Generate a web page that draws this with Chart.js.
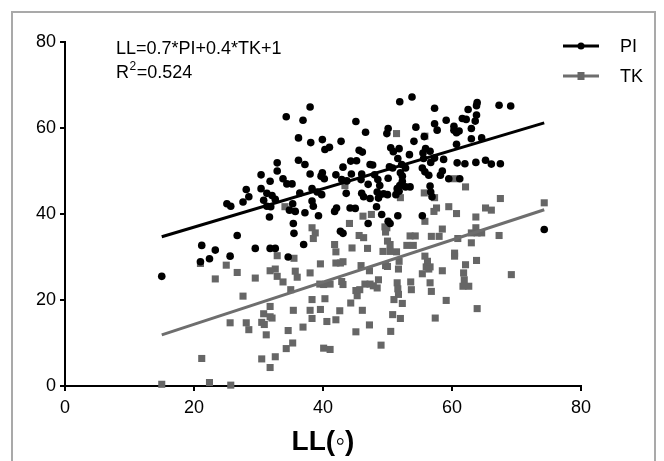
<!DOCTYPE html>
<html><head><meta charset="utf-8">
<script src="https://cdn.jsdelivr.net/npm/chart.js@4"></script>
<style>html,body{margin:0;padding:0;background:#fff;} #wrap{position:relative;width:664px;height:461px;}</style>
</head><body><div id="wrap"><canvas id="c" width="664" height="461"></canvas></div>
<script>
const seriesNames = ['PI', 'TK'];
const xTicks = [0, 20, 40, 60, 80];
const yTicks = [0, 20, 40, 60, 80];
const equationText = 'LL=0.7*PI+0.4*TK+1';
const r2Parts = ['R', '2', '=0.524'];
const xTitle = 'LL(\u25E6)';

const piX = [34.3,36.9,36.2,32.9,36.2,32.9,30.4,33.8,31.8,34.4,35.2,28.1,30.4,31.3,32.1,28.5,27.6,25.1,25.7,30.8,
32.6,31.3,31.9,35.3,34.8,35.7,31.7,35.4,35.5,26.7,21.2,23.3,21.0,22.4,25.6,29.5,31.8,32.6,34.6,15.0,
38.0,51.9,53.8,57.3,45.1,57.3,59.1,60.3,38.1,39.9,42.8,46.6,50.1,49.9,54.4,57.7,60.3,60.7,55.7,54.1,
41.0,40.3,45.6,46.1,50.5,51.8,50.9,53.4,55.9,56.6,55.5,60.7,37.2,44.3,45.2,47.3,47.7,51.6,55.6,56.7,
57.3,58.7,43.1,50.3,50.8,52.2,52.8,55.4,38.0,39.9,39.7,40.2,42.0,44.4,46.0,45.9,48.0,52.0,52.3,55.8,
56.4,58.5,58.2,50.1,59.5,42.9,43.7,48.5,48.8,47.0,52.3,51.9,52.8,51.5,53.5,56.6,38.3,39.1,39.8,36.4,
46.0,46.3,43.6,48.4,48.8,49.4,50.0,48.6,51.3,51.8,56.7,56.9,38.3,38.5,42.1,41.8,44.2,45.0,47.3,48.3,
37.2,39.3,49.1,51.6,55.4,47.0,50.1,50.4,42.7,43.1,37.0,63.9,63.8,67.3,69.1,62.5,63.8,63.6,61.6,62.2,
61.1,63.0,63.0,64.6,60.8,62.0,63.7,65.2,66.1,67.5,61.2,74.3];
const piY = [62.6,61.8,57.7,51.9,52.5,50.0,49.1,48.2,47.6,47.0,47.0,45.7,45.9,44.8,44.3,44.0,42.8,42.4,41.8,43.2,
43.4,41.8,41.7,42.4,40.9,40.6,39.3,37.8,35.5,35.0,32.7,31.6,28.9,29.6,30.2,32.0,32.0,32.0,30.0,25.5,
64.9,66.1,67.2,64.6,61.5,61.0,61.8,60.4,56.6,57.3,56.9,59.0,59.9,58.7,60.2,59.5,59.5,58.9,58.0,56.9,
55.5,55.0,54.8,54.4,55.4,55.2,54.5,53.8,55.2,54.6,54.2,56.2,51.5,52.3,52.4,51.5,51.4,52.9,52.9,52.0,
53.0,52.7,50.9,51.0,50.7,51.5,50.7,50.7,49.3,49.6,48.8,48.2,49.1,49.3,49.3,48.0,49.1,49.6,48.8,49.8,
49.0,50.0,49.0,48.3,48.2,48.0,47.7,48.0,46.6,46.9,47.6,46.6,46.3,45.9,46.3,46.5,45.9,45.1,44.5,44.9,
44.8,44.0,44.8,45.1,44.4,44.7,44.5,43.7,44.5,45.3,45.1,44.0,43.0,41.8,41.4,40.6,41.4,41.3,43.6,41.7,
40.3,39.6,39.9,39.6,39.6,37.8,38.3,37.8,36.0,35.5,32.9,65.9,65.2,65.3,65.1,64.3,63.0,61.6,62.2,62.0,
59.3,59.9,57.5,57.7,51.9,51.7,52.0,52.5,51.6,51.7,48.2,36.4];

const tkX = [34.1,21.0,25.0,23.3,26.7,29.5,32.9,35.5,31.8,32.6,32.9,33.8,35.7,36.0,35.0,27.6,31.8,35.4,30.8,31.8,
32.1,30.5,30.9,25.6,28.1,28.5,31.2,34.6,35.3,34.3,21.2,30.5,32.6,31.8,15.0,22.4,25.7,51.4,55.8,43.4,
52.0,55.7,57.3,57.6,57.2,59.5,60.7,46.2,47.5,44.1,55.8,49.6,49.9,38.3,38.8,58.5,53.5,54.3,56.8,58.0,
45.6,46.3,60.9,38.5,49.7,50.0,50.4,41.8,42.0,44.5,46.9,49.3,50.4,51.4,53.0,54.0,60.4,60.4,55.8,56.2,
56.0,39.6,42.0,42.7,43.1,45.9,47.2,49.7,50.0,51.8,51.7,56.6,56.4,55.4,58.5,38.0,39.5,40.1,41.1,42.9,
43.1,48.6,48.4,46.5,47.3,47.8,45.1,45.3,45.7,51.5,51.6,51.7,53.6,53.7,56.6,56.8,51.0,52.3,59.1,38.3,
40.3,38.0,39.6,42.6,44.3,46.1,50.8,52.0,38.3,40.6,42.0,57.4,36.9,47.2,50.5,45.1,49.0,40.1,41.1,60.4,
62.1,67.5,65.2,66.1,63.7,74.3,63.7,63.9,63.0,64.6,67.3,63.0,62.1,63.8,61.8,61.9,61.7,62.6,69.2,63.9];
const tkY = [41.7,28.5,28.1,24.9,26.4,25.1,30.3,29.7,26.8,27.2,25.5,24.2,26.7,25.3,22.4,20.9,18.5,17.6,16.8,16.1,
15.8,14.8,14.3,14.7,14.7,13.1,11.9,12.9,10.0,8.7,6.4,6.3,6.8,4.3,0.4,0.8,0.2,58.7,58.1,46.6,
43.8,44.9,43.8,41.4,40.6,41.7,40.1,39.5,39.9,37.8,38.3,37.0,36.8,36.8,35.6,36.5,34.9,34.9,34.8,34.8,
35.0,34.5,34.3,34.3,35.8,33.7,32.9,32.9,31.2,32.1,32.0,31.3,31.3,31.2,32.7,32.7,30.9,30.2,30.2,29.0,
27.7,28.4,28.6,28.6,28.9,28.0,26.8,28.0,27.8,29.0,27.2,27.7,27.2,26.1,26.8,26.3,23.7,23.6,23.7,24.3,
23.6,24.7,22.8,23.7,23.7,23.3,22.2,21.0,22.4,24.0,22.6,21.3,24.2,22.4,24.0,22.0,20.1,19.2,19.9,20.1,
20.3,17.6,17.8,17.5,19.3,17.6,16.6,15.7,15.7,15.0,15.4,15.8,13.7,14.2,12.7,12.6,9.5,8.8,8.5,48.2,
46.3,43.6,41.4,40.9,39.3,42.6,36.8,35.6,35.6,35.6,35.0,33.3,28.2,29.2,26.3,24.7,23.2,23.2,25.9,18.0];

const fitX = [15.0, 74.3];
const piFitY = [34.7, 61.2];
const tkFitY = [11.9, 41.0];

const BLACK = '#000000';
const GRAY = '#666666';
const GRAY_LINE = '#6e6e6e';
const FONT = "'Liberation Sans', Arial, sans-serif";

const toPts = (xs, ys) => xs.map((x, i) => ({x: x, y: ys[i]}));

const decor = {
  id: 'decor',
  beforeDraw(chart) {
    const ctx = chart.ctx;
    ctx.save();
    ctx.fillStyle = '#fff';
    ctx.fillRect(0, 0, chart.width, chart.height);
    ctx.restore();
  },
  afterDraw(chart) {
    const ctx = chart.ctx;
    ctx.save();
    // outer frame
    ctx.strokeStyle = '#a9a9a9';
    ctx.lineWidth = 2;
    ctx.strokeRect(12, 12, 643, 480);
    // equation text
    ctx.fillStyle = '#000';
    ctx.textBaseline = 'alphabetic';
    ctx.textAlign = 'left';
    ctx.font = '18px ' + FONT;
    ctx.fillText(equationText, 116, 54);
    let x = 116;
    ctx.fillText(r2Parts[0], x, 78);
    x += ctx.measureText(r2Parts[0]).width + 0.5;
    ctx.font = '12px ' + FONT;
    ctx.fillText(r2Parts[1], x, 70);
    x += ctx.measureText(r2Parts[1]).width + 0.5;
    ctx.font = '18px ' + FONT;
    ctx.fillText(r2Parts[2], x, 78);
    // legend
    const items = [
      {name: seriesNames[0], color: BLACK, y: 46, style: 'circle'},
      {name: seriesNames[1], color: GRAY_LINE, y: 76, style: 'rect'}
    ];
    items.forEach(it => {
      ctx.strokeStyle = it.color;
      ctx.lineWidth = 3;
      ctx.beginPath();
      ctx.moveTo(563, it.y);
      ctx.lineTo(599, it.y);
      ctx.stroke();
      ctx.fillStyle = it.style === 'circle' ? BLACK : GRAY;
      if (it.style === 'circle') {
        ctx.beginPath();
        ctx.arc(581, it.y, 3.5, 0, Math.PI * 2);
        ctx.fill();
      } else {
        ctx.fillRect(577.5, it.y - 4, 7, 8);
      }
      ctx.fillStyle = '#000';
      ctx.font = '18px ' + FONT;
      ctx.textBaseline = 'middle';
      ctx.fillText(it.name, 620, it.y + 1.5);
    });
    ctx.restore();
  }
};

new Chart(document.getElementById('c'), {
  type: 'scatter',
  data: {
    datasets: [
      {label: seriesNames[0] + ' fit', data: toPts(fitX, piFitY), showLine: true, borderColor: BLACK, borderWidth: 3, pointRadius: 0, fill: false},
      {label: seriesNames[1] + ' fit', data: toPts(fitX, tkFitY), showLine: true, borderColor: GRAY_LINE, borderWidth: 3, pointRadius: 0, fill: false},
      {label: seriesNames[0], data: toPts(piX, piY), pointStyle: 'circle', pointRadius: 3.8, backgroundColor: BLACK, borderWidth: 0, clip: false},
      {label: seriesNames[1], data: toPts(tkX, tkY), pointStyle: 'rect', pointRadius: 5, backgroundColor: GRAY, borderWidth: 0, clip: false}
    ]
  },
  options: {
    responsive: false,
    animation: false,
    devicePixelRatio: 1,
    layout: {padding: {left: 0, right: 83, top: 42, bottom: 0}},
    plugins: {legend: {display: false}, tooltip: {enabled: false}},
    scales: {
      x: {
        type: 'linear', min: 0, max: 80,
        afterBuildTicks: s => { s.ticks = xTicks.map(v => ({value: v})); },
        afterFit: s => { s.height = 75; },
        grid: {display: true, drawOnChartArea: false, drawTicks: true, tickLength: 5, color: BLACK, lineWidth: 2},
        border: {display: true, color: BLACK, width: 2},
        ticks: {color: BLACK, font: {family: FONT, size: 18}, padding: 6, maxRotation: 0},
        title: {display: true, text: xTitle, color: BLACK, font: {family: FONT, size: 28, weight: 'bold'}, padding: {top: 0, bottom: 2}}
      },
      y: {
        type: 'linear', min: 0, max: 80,
        afterBuildTicks: s => { s.ticks = yTicks.map(v => ({value: v})); },
        afterFit: s => { s.width = 65; },
        grid: {display: true, drawOnChartArea: false, drawTicks: true, tickLength: 5, color: BLACK, lineWidth: 2},
        border: {display: true, color: BLACK, width: 2},
        ticks: {color: BLACK, font: {family: FONT, size: 18}, padding: 4}
      }
    }
  },
  plugins: [decor]
});
</script></body></html>
